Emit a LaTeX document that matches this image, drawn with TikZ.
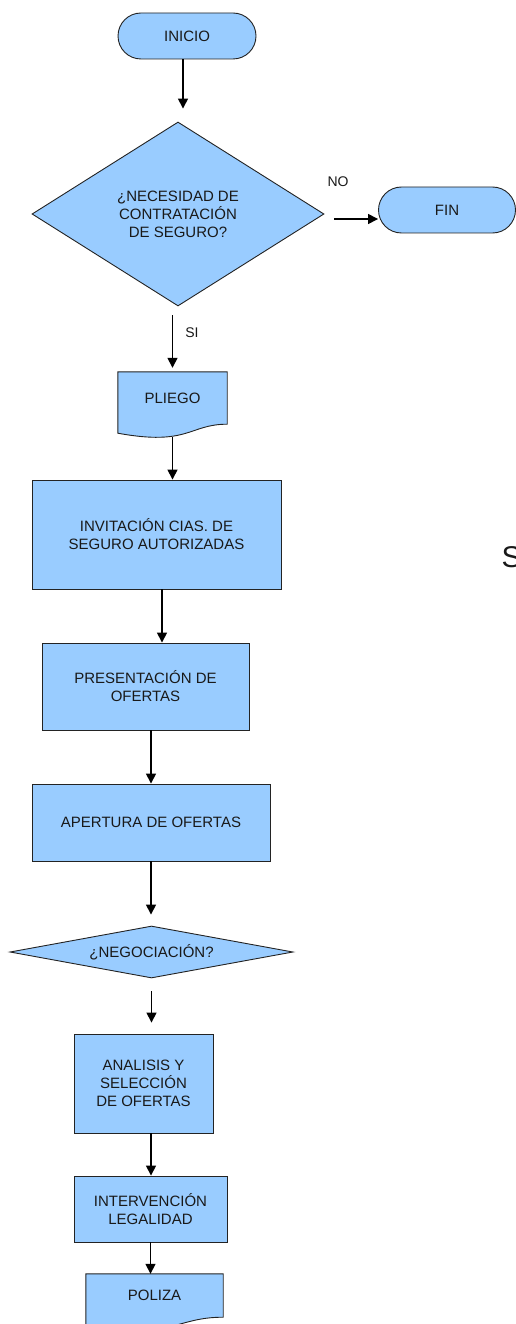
\documentclass[tikz,border=0pt]{standalone}
\usepackage{fontspec}
\setmainfont{Liberation Sans}
\usetikzlibrary{shapes.geometric,arrows.meta,calc,backgrounds}
\definecolor{boxblue}{RGB}{153,204,255}
\definecolor{edge}{RGB}{35,35,35}
\newcommand\docpath[1]{%
  \draw[docline] (#1.south west) -- (#1.north west) -- (#1.north east) -- (#1.south east)
    .. controls ($(#1.south east)!0.35!(#1.south west)$) and ($(#1.south west)!0.65!(#1.south east)+(0,22)$)
    .. ($(#1.south west)+(0,9)$) -- cycle;}
\begin{document}
\begin{tikzpicture}[x=1pt,y=-1pt,
  txt/.style={font=\fontsize{15}{18}\selectfont, align=center, text=black!90},
  base/.style={txt, draw=edge, line width=0.9pt, fill=boxblue, inner sep=0pt},
  proc/.style={base, rectangle},
  term/.style={base, rectangle, rounded corners=23pt},
  decision/.style={base, diamond},
  docbox/.style={txt, rectangle, inner sep=0pt},
  docline/.style={draw=edge, line width=0.9pt, fill=boxblue},
  arr/.style={-{Triangle[length=10pt,width=10pt]}, line width=1.5pt},
  lbl/.style={font=\fontsize{14}{17}\selectfont, inner sep=0pt, text=black!90}]
\useasboundingbox (0,0) rectangle (516,1324);

% nodes
\node[term, minimum width=138pt, minimum height=46pt] (inicio) at (187,36) {INICIO};
\node[decision, aspect=1.59, minimum width=292pt, minimum height=184pt] (d1) at (178,214)
  {¿NECESIDAD DE\\CONTRATACIÓN\\DE SEGURO?};
\node[term, minimum width=137pt, minimum height=46pt] (fin) at (447,210) {FIN};
\node[lbl] (no) at (338,182) {NO};
\node[docbox, minimum width=109pt, minimum height=52pt] (pliego) at (172.5,398) {PLIEGO};
\node[lbl] (si) at (192,333) {SI};
\node[proc, minimum width=249pt, minimum height=109pt] (invit) at (156.5,534.5)
  {INVITACIÓN CIAS. DE\\SEGURO AUTORIZADAS};
\node[proc, minimum width=207pt, minimum height=87pt] (pres) at (145.5,686.5)
  {PRESENTACIÓN DE\\OFERTAS};
\node[proc, minimum width=238pt, minimum height=77pt] (apert) at (151,822.5)
  {APERTURA DE OFERTAS};
\node[decision, aspect=5.44, minimum width=283pt, minimum height=52pt] (d2) at (151.5,952)
  {¿NEGOCIACIÓN?};
\node[proc, minimum width=139pt, minimum height=99pt] (anal) at (143.5,1083.5)
  {ANALISIS Y\\SELECCIÓN\\DE OFERTAS};
\node[proc, minimum width=153pt, minimum height=66pt] (interv) at (150.5,1209)
  {INTERVENCIÓN\\LEGALIDAD};
\node[docbox, minimum width=137pt, minimum height=43pt] (poliza) at (154.5,1295.5) {POLIZA};
\node[anchor=base west, inner sep=0pt, font=\fontsize{30}{36}\selectfont, text=black!90] (s) at (501.5,567) {S};

\begin{scope}[on background layer]
  \docpath{pliego}
  \docpath{poliza}
\end{scope}

% connectors
\coordinate (a1) at ($(inicio.south)+(-4,0)$);
\draw[arr] (a1) -- ($(a1 |- d1.north)+(0,-13)$);
\draw[arr] ($(d1.east)+(10,5)$) -- ($(fin.west)+(0,9)$);
\coordinate (a3) at ($(pliego.north |- d1.south)+(0,9)$);
\draw[arr] (a3) -- ($(pliego.north)+(0,-4)$);
\draw[arr] ($(pliego.south)+(0,13)$) -- (pliego.south |- invit.north);
\coordinate (a5) at ($(invit.south)+(5.5,0)$);
\draw[arr] (a5) -- (a5 |- pres.north);
\coordinate (a6) at ($(pres.south)+(5.5,0)$);
\draw[arr] (a6) -- (a6 |- apert.north);
\draw[arr] (apert.south) -- ($(apert.south |- d2.north)+(0,-11)$);
\draw[arr] ($(d2.south)+(0,13)$) -- ($(d2.south |- anal.north)+(0,-11)$);
\coordinate (a9) at ($(anal.south)+(7.5,0)$);
\draw[arr] (a9) -- (a9 |- interv.north);
\draw[arr] (interv.south) -- (interv.south |- poliza.north);
\end{tikzpicture}
\end{document}
